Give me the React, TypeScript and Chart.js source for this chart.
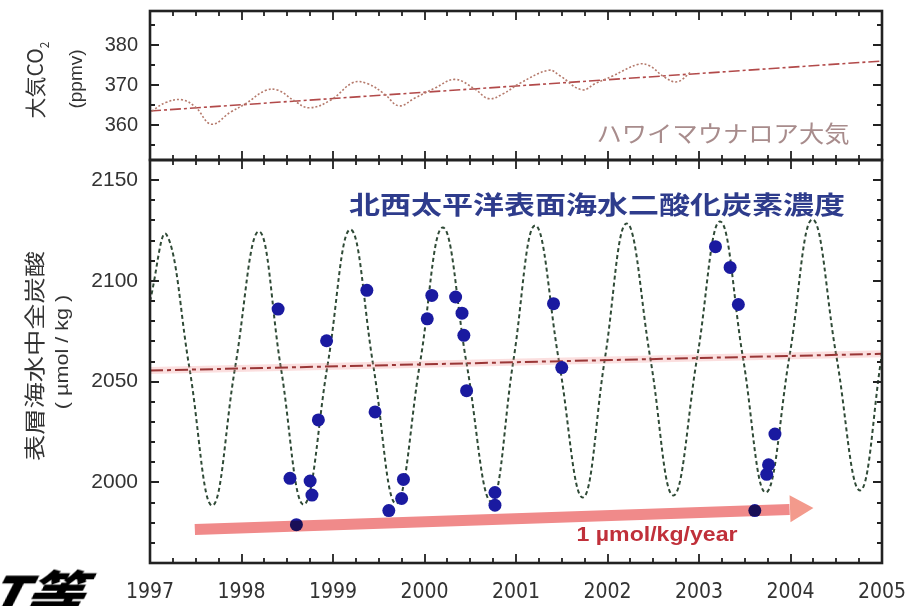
import React, { useEffect, useRef } from "react";
import { Chart, registerables } from "chart.js";
Chart.register(...registerables);

// ---------- data ----------
const yearTicks = [1997, 1998, 1999, 2000, 2001, 2002, 2003, 2004, 2005];
const co2TickValues = [360, 370, 380];
const dicTickValues = [2000, 2050, 2100, 2150];

// Mauna Loa atmospheric CO2 (ppmv)
const co2Years = [
  1997.02, 1997.17, 1997.35, 1997.5, 1997.67, 1997.88, 1998.05, 1998.26, 1998.4, 1998.58,
  1998.74, 1998.98, 1999.22, 1999.38, 1999.56, 1999.72, 1999.9, 2000.12, 2000.33, 2000.55,
  2000.7, 2000.86, 2001.04, 2001.36, 2001.48, 2001.72, 2001.87, 2002.05, 2002.34, 2002.46,
  2002.62, 2002.76, 2002.91,
];
const co2Values = [
  363.5, 365.6, 366.3, 364.4, 360.2, 363.2, 365.4, 368.6, 368.7, 366.0,
  364.3, 366.3, 370.6, 370.3, 367.8, 364.8, 366.8, 369.3, 371.4, 369.0,
  366.6, 367.8, 370.4, 373.7, 372.3, 368.8, 370.4, 372.2, 375.2, 374.8,
  372.0, 370.8, 373.2,
];
const co2TrendYears = [1997, 2005];
const co2TrendValues = [363.5, 376.0];

// Fitted seasonal cycle of surface DIC (umol/kg)
const seasonalYears = [
  1997.0, 1997.18, 1997.43, 1997.68, 1997.93, 1998.19, 1998.43, 1998.68, 1998.94,
  1999.19, 1999.44, 1999.69, 1999.95, 2000.2, 2000.46, 2000.73, 2000.97,
  2001.21, 2001.47, 2001.73, 2001.97, 2002.21, 2002.47, 2002.72, 2002.98,
  2003.23, 2003.48, 2003.73, 2003.99, 2004.24, 2004.5, 2004.76, 2005.0,
];
const seasonalValues = [
  2090, 2123, 2057, 1988.5, 2057, 2124.5, 2057, 1989, 2058,
  2125.5, 2058, 1989.5, 2059, 2126.5, 2059, 1990.5, 2060,
  2127.5, 2060, 1992.5, 2061, 2128.5, 2061, 1993.5, 2062,
  2129.5, 2062, 1995, 2063, 2130.5, 2063, 1996, 2064,
];
const dicTrendYears = [1997, 2005];
const dicTrendValues = [2055.5, 2063.8];

// Observations (umol/kg)
const obsYears = [
  1998.4, 1998.53, 1998.6, 1998.75, 1998.77, 1998.84, 1998.93,
  1999.37, 1999.46, 1999.61, 1999.75, 1999.77,
  2000.03, 2000.08, 2000.34, 2000.41, 2000.43, 2000.46, 2000.77, 2000.77,
  2001.41, 2001.5,
  2003.18, 2003.34, 2003.43, 2003.61, 2003.74, 2003.76, 2003.83,
];
const obsValues = [
  2086, 2002, 1979, 2000.7, 1993.7, 2031, 2070.3,
  2095.3, 2035, 1986, 1992, 2001.5,
  2081.2, 2092.8, 2092, 2084, 2073, 2045.5, 1995, 1988.7,
  2088.7, 2057,
  2117, 2106.7, 2088.3, 1986, 2004, 2008.7, 2024,
];

// Trend arrow (1 umol/kg/year)
const arrowYears = [1997.49, 2003.99];
const arrowValues = [1976.6, 1986.6];
const arrowHeadYears = [2004.08];
const arrowHeadValues = [1987];

const xMin = 1997;
const xMax = 2005;

// ---------- plugins ----------
const frameTicks = (yMinor: number, yMajor: number) => ({
  id: "frameTicks",
  afterDraw(chart: any) {
    const { ctx, chartArea: a, scales } = chart;
    const xs = scales.x;
    const ys = scales.y;
    ctx.save();
    ctx.strokeStyle = "#222";
    ctx.lineWidth = 1.8;
    ctx.beginPath();
    for (let i = 0; i <= (xMax - xMin) * 4; i++) {
      const v = xMin + i * 0.25;
      const px = Math.round(xs.getPixelForValue(v));
      const len = i % 4 === 0 ? 9 : 5;
      ctx.moveTo(px, a.bottom);
      ctx.lineTo(px, a.bottom - len);
      ctx.moveTo(px, a.top);
      ctx.lineTo(px, a.top + len);
    }
    const start = Math.ceil(ys.min / yMinor) * yMinor;
    for (let v = start; v <= ys.max + 1e-6; v += yMinor) {
      const py = Math.round(ys.getPixelForValue(v));
      const major = Math.abs(v / yMajor - Math.round(v / yMajor)) < 1e-6;
      const len = major ? 9 : 5;
      ctx.moveTo(a.left, py);
      ctx.lineTo(a.left + len, py);
      ctx.moveTo(a.right, py);
      ctx.lineTo(a.right - len, py);
    }
    ctx.stroke();
    ctx.lineWidth = 2.6;
    ctx.strokeRect(a.left, a.top, a.right - a.left, a.bottom - a.top);
    ctx.restore();
  },
});

const blendPlugin = {
  id: "blend",
  beforeDatasetDraw(chart: any, args: any) {
    if (chart.data.datasets[args.index].multiply) {
      chart.ctx.save();
      chart.ctx.globalCompositeOperation = "multiply";
    }
  },
  afterDatasetDraw(chart: any, args: any) {
    if (chart.data.datasets[args.index].multiply) {
      chart.ctx.restore();
    }
  },
};

const pts = (xs: number[], ys: number[]) => xs.map((x, i) => ({ x, y: ys[i] }));

const noPad = (s: any) => {
  s.paddingTop = 0;
  s.paddingBottom = 0;
  s.paddingLeft = 0;
  s.paddingRight = 0;
};

const yTickFont = { family: "'Liberation Sans', Arial, sans-serif", size: 20 };
const xTickFont = {
  family: "'Liberation Sans Narrow', 'DejaVu Sans Condensed', 'Liberation Sans', Arial, sans-serif",
  size: 21,
};

export default function App() {
  const topRef = useRef<HTMLCanvasElement>(null);
  const botRef = useRef<HTMLCanvasElement>(null);

  useEffect(() => {
    const top = new Chart(topRef.current!, {
      type: "scatter",
      data: {
        datasets: [
          {
            data: pts(co2Years, co2Values),
            showLine: true,
            borderColor: "#b57a6c",
            borderWidth: 1.6,
            borderDash: [2, 2],
            pointRadius: 0,
            tension: 0.4,
          },
          {
            data: pts(co2TrendYears, co2TrendValues),
            showLine: true,
            borderColor: "#b24a4a",
            borderWidth: 1.6,
            borderDash: [11, 3, 3, 3],
            pointRadius: 0,
          },
        ],
      },
      options: {
        responsive: false,
        animation: false,
        events: [],
        layout: { autoPadding: false, padding: { left: 0, right: 33, top: 11, bottom: 5 } },
        plugins: { legend: { display: false }, tooltip: { enabled: false } },
        scales: {
          x: { type: "linear", min: xMin, max: xMax, display: false },
          y: {
            type: "linear",
            min: 351.25,
            max: 388.5,
            grid: { display: false, drawTicks: false },
            border: { display: false },
            afterFit: (s: any) => {
              s.width = 150;
              noPad(s);
            },
            afterBuildTicks: (s: any) => {
              s.ticks = co2TickValues.map((v) => ({ value: v }));
            },
            ticks: { padding: 12, color: "#333", font: yTickFont, callback: (v: any) => String(v) },
          },
        },
      },
      plugins: [frameTicks(5, 10)],
    });

    const bot = new Chart(botRef.current!, {
      type: "scatter",
      data: {
        datasets: [
          {
            data: pts(seasonalYears, seasonalValues),
            showLine: true,
            borderColor: "#2f4a36",
            borderWidth: 2,
            borderDash: [4, 3],
            pointRadius: 0,
            tension: 0.42,
            order: 6,
          },
          {
            data: pts(dicTrendYears, dicTrendValues),
            showLine: true,
            borderColor: "rgba(240,140,140,0.28)",
            borderWidth: 7,
            pointRadius: 0,
            order: 5,
          },
          {
            data: pts(dicTrendYears, dicTrendValues),
            showLine: true,
            borderColor: "#9a3636",
            borderWidth: 2,
            borderDash: [13, 4, 4, 4],
            pointRadius: 0,
            order: 4,
          },
          {
            data: pts(obsYears, obsValues),
            showLine: false,
            pointRadius: 6.5,
            pointBackgroundColor: "#1a1aa0",
            pointBorderWidth: 0,
            order: 3,
          },
          {
            data: pts(arrowYears, arrowValues),
            showLine: true,
            borderColor: "#f08a8a",
            borderWidth: 11,
            borderCapStyle: "butt",
            pointRadius: 0,
            order: 2,
            multiply: true,
          } as any,
          {
            data: pts(arrowHeadYears, arrowHeadValues),
            showLine: false,
            pointStyle: "triangle",
            pointRotation: 88,
            pointRadius: 15.6,
            pointBackgroundColor: "#f39a8c",
            pointBorderWidth: 0,
            order: 1,
          },
        ],
      },
      options: {
        responsive: false,
        animation: false,
        events: [],
        layout: { autoPadding: false, padding: { left: 0, right: 33, top: 5, bottom: 0 } },
        plugins: { legend: { display: false }, tooltip: { enabled: false } },
        scales: {
          x: {
            type: "linear",
            min: xMin,
            max: xMax,
            grid: { display: false, drawTicks: false },
            border: { display: false },
            afterFit: (s: any) => {
              s.height = 43;
              noPad(s);
            },
            afterBuildTicks: (s: any) => {
              s.ticks = yearTicks.map((v) => ({ value: v }));
            },
            ticks: {
              padding: 17,
              color: "#333",
              font: xTickFont,
              maxRotation: 0,
              callback: (v: any) => String(v),
            },
          },
          y: {
            type: "linear",
            min: 1960,
            max: 2160,
            grid: { display: false, drawTicks: false },
            border: { display: false },
            afterFit: (s: any) => {
              s.width = 150;
              noPad(s);
            },
            afterBuildTicks: (s: any) => {
              s.ticks = dicTickValues.map((v) => ({ value: v }));
            },
            ticks: {
              padding: 12,
              color: "#333",
              font: { ...yTickFont, size: 21 },
              callback: (v: any) => String(v),
            },
          },
        },
      },
      plugins: [frameTicks(10, 50), blendPlugin],
    });

    return () => {
      top.destroy();
      bot.destroy();
    };
  }, []);

  const abs = (cx: number, cy: number, extra: React.CSSProperties): React.CSSProperties => ({
    position: "absolute",
    left: cx,
    top: cy,
    whiteSpace: "nowrap",
    lineHeight: 1,
    pointerEvents: "none",
    ...extra,
  });
  const jp = "'Noto Sans CJK JP', 'Noto Sans', sans-serif";
  const sans = "'Liberation Sans', Arial, sans-serif";

  return (
    <div
      style={{
        position: "absolute",
        left: 0,
        top: 0,
        width: 915,
        height: 606,
        overflow: "hidden",
        background: "#fff",
      }}
    >
      <canvas ref={topRef} width={915} height={165} style={{ position: "absolute", left: 0, top: 0 }} />
      <canvas ref={botRef} width={915} height={451} style={{ position: "absolute", left: 0, top: 155 }} />

      <div style={abs(37, 80, { fontFamily: jp, fontSize: 21, color: "#333", transform: "translate(-50%,-50%) rotate(-90deg)" })}>
        大気CO<sub style={{ fontSize: 12 }}>2</sub>
      </div>
      <div style={abs(75, 79, { fontFamily: sans, fontSize: 19, color: "#333", transform: "translate(-50%,-50%) rotate(-90deg)" })}>
        (ppmv)
      </div>
      <div style={abs(33, 356, { fontFamily: jp, fontSize: 21, color: "#333", transform: "translate(-50%,-50%) rotate(-90deg) scaleX(1.25)" })}>
        表層海水中全炭酸
      </div>
      <div style={abs(62, 352, { fontFamily: sans, fontSize: 18, color: "#333", transform: "translate(-50%,-50%) rotate(-90deg) scaleX(1.2)" })}>
        ( µmol / kg )
      </div>
      <div style={abs(597, 203, { fontFamily: jp, fontSize: 25, fontWeight: 700, color: "#2e3c8c", transform: "translate(-50%,-50%) scaleX(1.24)" })}>
        北西太平洋表面海水二酸化炭素濃度
      </div>
      <div style={abs(723, 132, { fontFamily: jp, fontSize: 23, color: "#a88c8c", transform: "translate(-50%,-50%) scaleX(1.1)" })}>
        ハワイマウナロア大気
      </div>
      <div style={abs(657, 533, { fontFamily: sans, fontSize: 21, fontWeight: 700, color: "#c0303a", transform: "translate(-50%,-50%) scaleX(1.1)" })}>
        1 µmol/kg/year
      </div>
      <div style={abs(-4, 566, { fontFamily: jp, fontSize: 52, fontWeight: 900, fontStyle: "italic", color: "#000", transform: "scaleX(1.1) skewX(-12deg)", transformOrigin: "left top" })}>
        T等
      </div>
    </div>
  );
}
